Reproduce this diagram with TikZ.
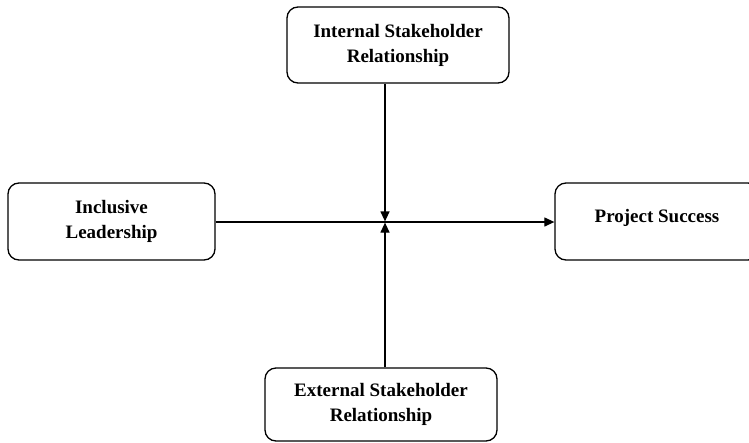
\documentclass[tikz,border=0pt]{standalone}
\usepackage{fontspec}
\setmainfont{Liberation Serif}
\usetikzlibrary{arrows.meta}
\begin{document}
\begin{tikzpicture}[x=1pt,y=-1pt,
  box/.style={draw=black,line width=1.3pt,rounded corners=11pt,align=center,
    font=\fontsize{19}{25}\selectfont\bfseries,inner sep=0pt},
  conn/.style={line width=1.2pt,-{Triangle[length=10pt,width=9pt]}}]
\useasboundingbox (0,0) rectangle (749,442);
\node[box,minimum width=222pt,minimum height=76pt] (int) at (398,45) {Internal Stakeholder\\Relationship};
\node[box,minimum width=207pt,minimum height=77pt] (inc) at (111.5,221.5) {Inclusive\\Leadership};
\node[box,minimum width=204pt,minimum height=77pt,text height=13pt,text depth=12pt] (ps) at (657,221.5) {Project Success};
\node[box,minimum width=232pt,minimum height=73pt] (ext) at (381,404.5) {External Stakeholder\\Relationship};
\coordinate (j) at (385,222);
\coordinate (jt) at (385,221.4);
\coordinate (jb) at (385,222.6);
\draw[conn] (inc.east |- j) -- (ps.west |- j);
\draw[conn] (int.south -| j) -- (jt);
\draw[conn] (ext.north -| j) -- (jb);
\end{tikzpicture}
\end{document}
